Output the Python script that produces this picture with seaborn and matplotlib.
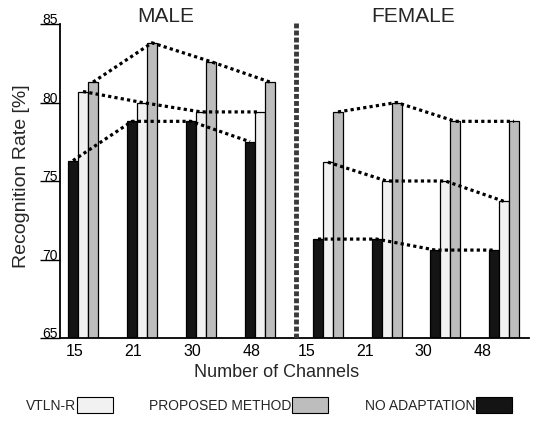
import numpy as np
import pandas as pd
import seaborn as sns
import matplotlib
matplotlib.use("Agg")
import matplotlib.pyplot as plt
from matplotlib.patches import Patch
from matplotlib.lines import Line2D

# ---- data ----
channels = ["15", "21", "30", "48"]
methods = ["NO ADAPTATION", "VTLN-R", "PROPOSED METHOD"]
male_no_adapt = [76.3, 78.8, 78.8, 77.5]
male_vtln = [80.7, 80.0, 79.4, 79.4]
male_proposed = [81.3, 83.8, 82.6, 81.3]
female_no_adapt = [71.3, 71.3, 70.6, 70.6]
female_vtln = [76.2, 75.0, 75.0, 73.7]
female_proposed = [79.4, 80.0, 78.8, 78.8]
y_ticks = [65, 70, 75, 80, 85]

colors = {"NO ADAPTATION": "#141414", "VTLN-R": "#f1f1f1", "PROPOSED METHOD": "#bdbdbd"}


def long_df(na, vt, pr):
    rows = []
    for m, vals in zip(methods, [na, vt, pr]):
        for c, v in zip(channels, vals):
            rows.append({"channels": c, "method": m, "rate": v})
    return pd.DataFrame(rows)


df_male = long_df(male_no_adapt, male_vtln, male_proposed)
df_female = long_df(female_no_adapt, female_vtln, female_proposed)

sns.set_theme(style="white")
plt.rcParams["font.family"] = ["Liberation Sans", "DejaVu Sans"]

W, H = 558, 423
fig = plt.figure(figsize=(W / 100, H / 100), dpi=100)
axm = fig.add_axes([60 / W, 1 - 338 / H, 236 / W, 314 / H])
axf = fig.add_axes([296 / W, 1 - 338 / H, 233 / W, 314 / H])

for ax, df in [(axm, df_male), (axf, df_female)]:
    sns.barplot(data=df, x="channels", y="rate", hue="method", order=channels,
                hue_order=methods, palette=colors, width=0.51, saturation=1,
                edgecolor="black", linewidth=0.9, errorbar=None, legend=False, ax=ax)
    # dotted lines connecting the bar tops of each method
    for cont in ax.containers:
        xs = [p.get_x() + p.get_width() / 2 for p in cont]
        ys = [p.get_height() for p in cont]
        ax.plot(xs, ys, color="black", lw=2.3, linestyle=(0, (1, 1.0)), zorder=5)
    ax.set_ylim(65, 85)
    ax.set_xlabel("")
    ax.set_ylabel("")
    for s in ["top", "right"]:
        ax.spines[s].set_visible(False)
    ax.spines["bottom"].set_color("black")
    ax.spines["bottom"].set_linewidth(1.3)
    ax.tick_params(axis="x", length=0, labelsize=11.5, pad=4, colors="black")

axm.set_xlim(-0.39, 3.61)
axf.set_xlim(-0.545, 3.425)
axm.set_xticks(np.arange(len(channels)) - 0.15, channels)
axf.set_xticks(np.arange(len(channels)) - 0.37, channels)

# y axis of male panel: long ticks with labels sitting on them
axm.spines["left"].set_color("black")
axm.spines["left"].set_linewidth(1.3)
axm.set_yticks(y_ticks, [str(t) for t in y_ticks])
axm.tick_params(axis="y", left=True, length=14.4, width=1.0, color="black",
                pad=-12.9, labelsize=10, labelcolor="black")
for lab in axm.get_yticklabels():
    lab.set_verticalalignment("baseline")
axf.spines["left"].set_visible(False)
axf.set_yticks([])

# separator between panels
fig.add_artist(Line2D([296 / W, 296 / W], [1 - 338 / H, 1 - 23 / H], lw=3.5,
                      color="#3a3a3a", linestyle=(0, (1.0, 0.45))))

# titles and labels
fig.text(166 / W, 1 - 16 / H, "MALE", ha="center", va="center", fontsize=15)
fig.text(413 / W, 1 - 16 / H, "FEMALE", ha="center", va="center", fontsize=15)
fig.text(22 / W, 1 - 176 / H, "Recognition Rate [%]", rotation=90,
         ha="center", va="center", fontsize=14)
fig.text(277 / W, 1 - 372 / H, "Number of Channels", ha="center", va="center", fontsize=13)

leg_order = ["VTLN-R", "PROPOSED METHOD", "NO ADAPTATION"]
handles = [Patch(facecolor=colors[m], edgecolor="black", linewidth=0.8) for m in leg_order]
fig.legend(handles, leg_order, loc="center", bbox_to_anchor=(269 / W, 1 - 405 / H),
           ncol=3, markerfirst=False, frameon=False, fontsize=10,
           handlelength=2.6, handleheight=1.4, handletextpad=0.05, columnspacing=2.6)

fig.savefig("out.png", dpi=100)
